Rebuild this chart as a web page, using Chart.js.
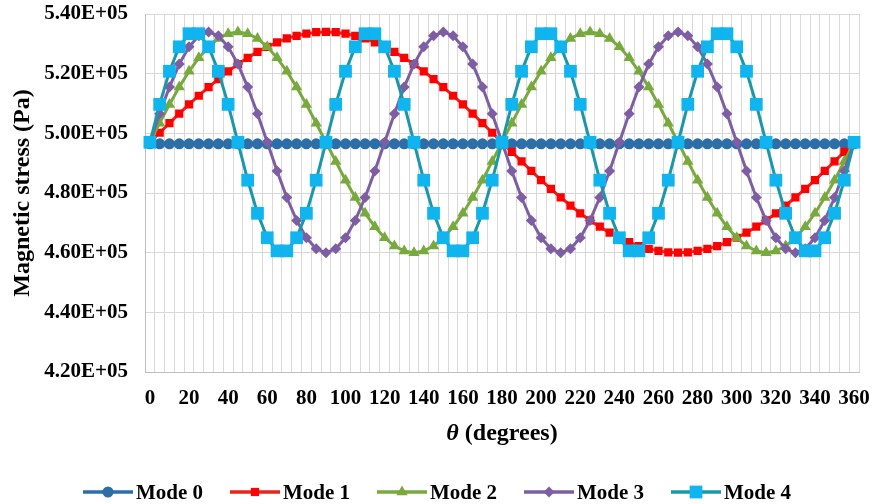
<!DOCTYPE html>
<html>
<head>
<meta charset="utf-8">
<script src="https://cdn.jsdelivr.net/npm/chart.js@4.4.0/dist/chart.umd.min.js"></script>
<style>
  html, body { margin: 0; padding: 0; background: #fff; }
  #wrap {
    position: relative; width: 873px; height: 504px; overflow: hidden;
    font-family: "Liberation Serif", "Times New Roman", serif; font-weight: bold; color: #000;
  }
  #chart { position: absolute; left: 0; top: 0; }
  #xTitle {
    position: absolute; left: 352px; width: 300px; top: 418px;
    text-align: center; font-size: 24px; line-height: 28px;
  }
  #legend { position: absolute; left: 83px; top: 480px; display: flex; }
  .item { display: flex; align-items: center; width: 147px; font-size: 21px; line-height: 24px; }
  .item svg { display: block; margin-right: 3px; }
</style>
</head>
<body>
<div id="wrap">
  <canvas id="chart" width="873" height="504"></canvas>
  <div id="xTitle"><i>θ</i> (degrees)</div>
  <div id="legend"></div>
</div>
<script>
// theta, degrees (category axis)
const thetaLabels = [
  0, 5, 10, 15, 20, 25, 30, 35, 40, 45, 50, 55, 60, 65, 70, 75, 80, 85, 90,
  95, 100, 105, 110, 115, 120, 125, 130, 135, 140, 145, 150, 155, 160, 165, 170, 175, 180,
  185, 190, 195, 200, 205, 210, 215, 220, 225, 230, 235, 240, 245, 250, 255, 260, 265, 270,
  275, 280, 285, 290, 295, 300, 305, 310, 315, 320, 325, 330, 335, 340, 345, 350, 355, 360
];

const seriesNames = ["Mode 0", "Mode 1", "Mode 2", "Mode 3", "Mode 4"];

// magnetic stress, Pa
const mode0 = [
  496500, 496500, 496500, 496500, 496500, 496500, 496500, 496500, 496500, 496500, 496500, 496500, 496500, 496500, 496500, 496500, 496500, 496500, 496500,
  496500, 496500, 496500, 496500, 496500, 496500, 496500, 496500, 496500, 496500, 496500, 496500, 496500, 496500, 496500, 496500, 496500, 496500,
  496500, 496500, 496500, 496500, 496500, 496500, 496500, 496500, 496500, 496500, 496500, 496500, 496500, 496500, 496500, 496500, 496500, 496500,
  496500, 496500, 496500, 496500, 496500, 496500, 496500, 496500, 496500, 496500, 496500, 496500, 496500, 496500, 496500, 496500, 496500, 496500
];

const mode1 = [
  497000, 500200, 503400, 506600, 509700, 512600, 515500, 518200, 520800, 523200, 525300, 527300, 529000, 530500, 531800, 532700, 533400, 533900, 534000,
  533900, 533400, 532700, 531800, 530500, 529000, 527300, 525300, 523200, 520800, 518200, 515500, 512600, 509700, 506600, 503400, 500200, 497000,
  493800, 490600, 487400, 484300, 481400, 478500, 475800, 473200, 470800, 468700, 466700, 465000, 463500, 462200, 461300, 460600, 460100, 460000,
  460100, 460600, 461300, 462200, 463500, 465000, 466700, 468700, 470800, 473200, 475800, 478500, 481400, 484300, 487400, 490600, 493800, 497000
];

const mode2 = [
  497000, 503400, 509700, 515500, 520800, 525300, 529000, 531800, 533400, 534000, 533400, 531800, 529000, 525300, 520800, 515500, 509700, 503400,
  497000, 490600, 484300, 478500, 473200, 468700, 465000, 462200, 460600, 460000, 460600, 462200, 465000, 468700, 473200, 478500, 484300, 490600,
  497000, 503400, 509700, 515500, 520800, 525300, 529000, 531800, 533400, 534000, 533400, 531800, 529000, 525300, 520800, 515500, 509700, 503400,
  497000, 490600, 484300, 478500, 473200, 468700, 465000, 462200, 460600, 460000, 460600, 462200, 465000, 468700, 473200, 478500, 484300, 490600,
  497000
];

const mode3 = [
  497000, 506600, 515500, 523200, 529000, 532700, 534000, 532700, 529000, 523200, 515500, 506600,
  497000, 487400, 478500, 470800, 465000, 461300, 460000, 461300, 465000, 470800, 478500, 487400,
  497000, 506600, 515500, 523200, 529000, 532700, 534000, 532700, 529000, 523200, 515500, 506600,
  497000, 487400, 478500, 470800, 465000, 461300, 460000, 461300, 465000, 470800, 478500, 487400,
  497000, 506600, 515500, 523200, 529000, 532700, 534000, 532700, 529000, 523200, 515500, 506600,
  497000, 487400, 478500, 470800, 465000, 461300, 460000, 461300, 465000, 470800, 478500, 487400,
  497000
];

const mode4 = [
  497000, 509700, 520800, 529000, 533400, 533400, 529000, 520800, 509700,
  497000, 484300, 473200, 465000, 460600, 460600, 465000, 473200, 484300,
  497000, 509700, 520800, 529000, 533400, 533400, 529000, 520800, 509700,
  497000, 484300, 473200, 465000, 460600, 460600, 465000, 473200, 484300,
  497000, 509700, 520800, 529000, 533400, 533400, 529000, 520800, 509700,
  497000, 484300, 473200, 465000, 460600, 460600, 465000, 473200, 484300,
  497000, 509700, 520800, 529000, 533400, 533400, 529000, 520800, 509700,
  497000, 484300, 473200, 465000, 460600, 460600, 465000, 473200, 484300,
  497000
];

const yMin = 420000;
const yMax = 540000;
const yStep = 20000;

const FONT = "'Liberation Serif', 'Times New Roman', serif";

const styles = [
  { line: "#2b6ea8", fill: "#2b6ea8", shape: "circle", r: 5.5 },
  { line: "#e8241c", fill: "#ff0000", shape: "rect", r: 5.8 },
  { line: "#78a93c", fill: "#78a93c", shape: "triangle", r: 6.5 },
  { line: "#7d5ea3", fill: "#7d5ea3", shape: "rectRot", r: 5.5 },
  { line: "#1a98aa", fill: "#10b4ee", shape: "rect", r: 9 }
];

const allData = [mode0, mode1, mode2, mode3, mode4];

const datasets = allData.map((d, i) => ({
  label: seriesNames[i],
  data: d,
  borderColor: styles[i].line,
  backgroundColor: styles[i].fill,
  borderWidth: 3,
  tension: 0,
  pointStyle: styles[i].shape,
  pointRadius: styles[i].r,
  pointBackgroundColor: styles[i].fill,
  pointBorderColor: styles[i].fill,
  pointBorderWidth: 0,
  order: 4 - i
}));

const chart = new Chart(document.getElementById("chart"), {
  type: "line",
  data: { labels: thetaLabels.map(String), datasets },
  options: {
    responsive: false,
    devicePixelRatio: 1,
    animation: false,
    layout: { padding: { top: 14, right: 14, left: 0, bottom: 92 } },
    plugins: {
      legend: { display: false },
      tooltip: { enabled: false }
    },
    scales: {
      x: {
        type: "category",
        offset: true,
        grid: { offset: true, color: "#d9d9d9", lineWidth: 1, drawTicks: false },
        border: { color: "#bfbfbf", width: 1 },
        ticks: {
          autoSkip: false,
          maxRotation: 0,
          padding: 14,
          color: "#000",
          font: { family: FONT, size: 21, weight: "bold" },
          callback: function (value) {
            const lbl = this.getLabelForValue(value);
            return Number(lbl) % 20 === 0 ? lbl : "";
          }
        },
        afterFit: (scale) => {
          scale.height = 40;
          scale.paddingLeft = 0;
          scale.paddingRight = 0;
        }
      },
      y: {
        min: yMin,
        max: yMax,
        grid: { color: "#d9d9d9", lineWidth: 1, drawTicks: false },
        border: { color: "#bfbfbf", width: 1 },
        ticks: {
          stepSize: yStep,
          padding: 17,
          color: "#000",
          font: { family: FONT, size: 21, weight: "bold" },
          callback: (v) => (v / 1e5).toFixed(2) + "E+05"
        },
        title: {
          display: true,
          text: "Magnetic stress (Pa)",
          color: "#000",
          font: { family: FONT, size: 24, weight: "bold" },
          padding: { top: 8, bottom: 0 }
        },
        afterFit: (scale) => {
          scale.width = 145;
          scale.paddingTop = 0;
          scale.paddingBottom = 0;
        }
      }
    }
  }
});

// legend: line with the marker in the middle, like the original
function markerSvg(st) {
  const cx = 25, cy = 12;
  let m = "";
  if (st.shape === "circle") {
    m = `<circle cx="${cx}" cy="${cy}" r="${st.r}" fill="${st.fill}"/>`;
  } else if (st.shape === "rect") {
    const h = st.r * Math.SQRT1_2;
    m = `<rect x="${cx - h}" y="${cy - h}" width="${2 * h}" height="${2 * h}" fill="${st.fill}"/>`;
  } else if (st.shape === "triangle") {
    const r = st.r;
    m = `<polygon points="${cx},${cy - r} ${cx + r * 0.87},${cy + r * 0.5} ${cx - r * 0.87},${cy + r * 0.5}" fill="${st.fill}"/>`;
  } else {
    const r = st.r;
    m = `<polygon points="${cx},${cy - r} ${cx + r},${cy} ${cx},${cy + r} ${cx - r},${cy}" fill="${st.fill}"/>`;
  }
  return `<svg width="50" height="24"><line x1="0" y1="${cy}" x2="50" y2="${cy}" stroke="${st.line}" stroke-width="3.5"/>${m}</svg>`;
}

const legendEl = document.getElementById("legend");
chart.data.datasets.forEach((ds, i) => {
  const div = document.createElement("div");
  div.className = "item";
  div.innerHTML = markerSvg(styles[i]) + `<span>${ds.label}</span>`;
  legendEl.appendChild(div);
});
</script>
</body>
</html>
